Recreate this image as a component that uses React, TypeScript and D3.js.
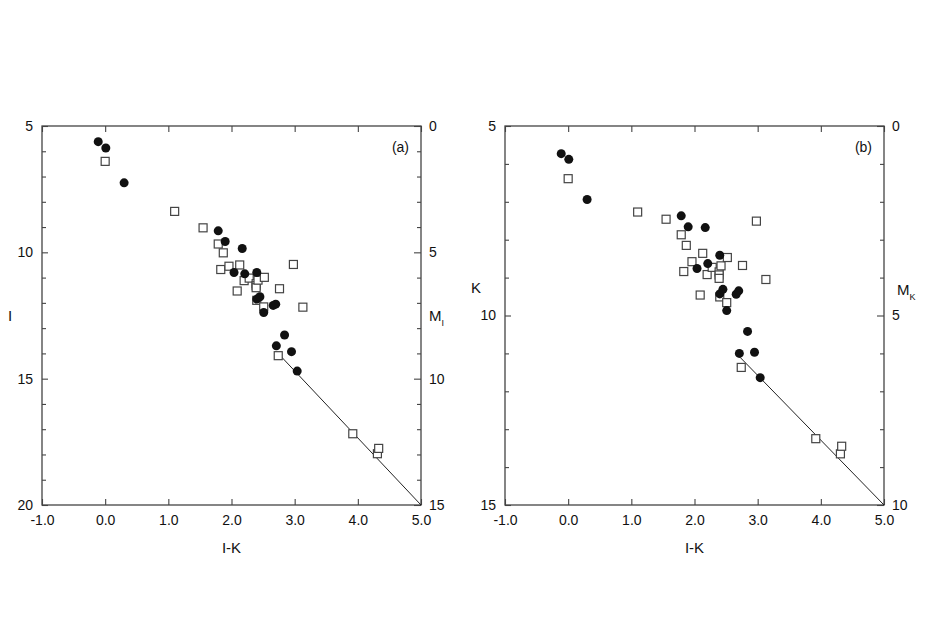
import React, { useEffect, useRef } from "react";
import * as d3 from "d3";

// colour I-K, apparent I, apparent K for the filled circles
const ikCircle = [-0.11, 0.01, 0.3, 1.79, 1.9, 2.17, 2.04, 2.21, 2.4, 2.4, 2.45, 2.66, 2.7, 2.51, 2.84, 2.71, 2.95, 3.04];
const iCircle = [5.62, 5.87, 7.25, 9.15, 9.57, 9.85, 10.8, 10.85, 10.8, 11.85, 11.76, 12.1, 12.05, 12.38, 13.27, 13.7, 13.93, 14.7];
const kCircle = [5.73, 5.88, 6.94, 7.37, 7.66, 7.68, 8.76, 8.63, 8.41, 9.43, 9.31, 9.44, 9.35, 9.87, 10.42, 11.0, 10.97, 11.64];

// same for the open squares
const ikSquare = [0.0, 1.1, 1.55, 1.79, 1.87, 1.83, 1.96, 2.13, 2.2, 2.28, 2.39, 2.39, 2.39, 2.42, 2.52, 2.09, 2.4, 2.51, 2.76, 2.98, 3.13, 2.74, 3.92, 4.31, 4.33];
const iSquare = [6.4, 8.38, 9.03, 9.67, 10.02, 10.68, 10.55, 10.5, 11.12, 11.02, 11.24, 11.32, 11.4, 11.1, 10.99, 11.53, 11.9, 12.16, 11.44, 10.48, 12.17, 14.09, 17.18, 17.97, 17.76];
const kSquare = [6.39, 7.27, 7.46, 7.87, 8.15, 8.84, 8.58, 8.36, 8.92, 8.73, 8.85, 8.93, 9.02, 8.69, 8.47, 9.46, 9.51, 9.66, 8.68, 7.51, 9.05, 11.37, 13.25, 13.65, 13.45];

// straight line drawn in both panels
const lineIK = [2.72, 5.0];
const lineI = [13.95, 20.0];
const lineK = [11.1, 15.0];

const xTicks = [-1, 0, 1, 2, 3, 4, 5];

const panels = [
  {
    left: 42, yDomain: [5, 20], yMajor: [5, 10, 15, 20], rDomain: [0, 15], rMajor: [0, 5, 10, 15],
    circ: iCircle, sq: iSquare, line: lineI, yLabel: "I", yLabelY: 316, rSub: "I", rLabelX: 429, rLabelY: 316, tag: "(a)",
  },
  {
    left: 505, yDomain: [5, 15], yMajor: [5, 10, 15], rDomain: [0, 10], rMajor: [0, 5, 10],
    circ: kCircle, sq: kSquare, line: lineK, yLabel: "K", yLabelY: 288, rSub: "K", rLabelX: 897, rLabelY: 290, tag: "(b)",
  },
];

const W = 379;
const TOP = 126;
const BOTTOM = 505;
const FONT = "'Liberation Sans', Arial, sans-serif";
const INK = "#444";

export default function App() {
  const ref = useRef<SVGSVGElement>(null);

  useEffect(() => {
    const svg = d3.select(ref.current);
    svg.selectAll("*").remove();

    panels.forEach((p) => {
      const g = svg.append("g");
      const x = d3.scaleLinear().domain([-1, 5]).range([p.left, p.left + W]);
      const y = d3.scaleLinear().domain(p.yDomain).range([TOP, BOTTOM]);
      const yR = d3.scaleLinear().domain(p.rDomain).range([TOP, BOTTOM]);
      const right = p.left + W;

      const style = (sel: any) => {
        sel.select(".domain").remove();
        sel.selectAll("line").attr("stroke", INK).attr("stroke-width", 1.1);
        sel.selectAll("text").attr("fill", "#111").attr("font-family", FONT).attr("font-size", 14);
      };

      // x axes, bottom with labels, top ticks only
      g.append("g")
        .attr("transform", `translate(0,${BOTTOM})`)
        .call(d3.axisBottom(x).tickValues(xTicks).tickSize(-6).tickPadding(10).tickFormat((d: any) => d.toFixed(1)))
        .call(style);
      g.append("g")
        .attr("transform", `translate(0,${TOP})`)
        .call(d3.axisTop(x).tickValues(xTicks).tickSize(-6).tickFormat(() => ""))
        .call(style);

      // left axis: minor every 1, labelled every 5
      const leftMinor = d3.range(p.yDomain[0], p.yDomain[1] + 1).filter((v) => !p.yMajor.includes(v));
      g.append("g")
        .attr("transform", `translate(${p.left},0)`)
        .call(d3.axisLeft(y).tickValues(leftMinor).tickSize(-4).tickFormat(() => ""))
        .call(style);
      g.append("g")
        .attr("transform", `translate(${p.left},0)`)
        .call(d3.axisLeft(y).tickValues(p.yMajor).tickSize(-6).tickPadding(9).tickFormat(d3.format("d")))
        .call(style);

      // right axis in absolute magnitude
      const rightMinor = d3.range(p.rDomain[0], p.rDomain[1] + 1).filter((v) => !p.rMajor.includes(v));
      g.append("g")
        .attr("transform", `translate(${right},0)`)
        .call(d3.axisRight(yR).tickValues(rightMinor).tickSize(-4).tickFormat(() => ""))
        .call(style);
      g.append("g")
        .attr("transform", `translate(${right},0)`)
        .call(d3.axisRight(yR).tickValues(p.rMajor).tickSize(-7).tickPadding(8).tickFormat(d3.format("d")))
        .call(style);

      // frame
      g.append("rect")
        .attr("x", p.left).attr("y", TOP)
        .attr("width", W).attr("height", BOTTOM - TOP)
        .attr("fill", "none").attr("stroke", INK).attr("stroke-width", 1.3);

      // fitted line
      const pts: [number, number][] = lineIK.map((v, i) => [x(v), y(p.line[i])]);
      g.append("path")
        .attr("d", d3.line()(pts))
        .attr("stroke", "#222").attr("stroke-width", 1).attr("fill", "none");

      // open squares
      g.append("g").selectAll("rect")
        .data(ikSquare)
        .join("rect")
        .attr("x", (d) => x(d) - 4)
        .attr("y", (d, i) => y(p.sq[i]) - 4)
        .attr("width", 8).attr("height", 8)
        .attr("fill", "white").attr("stroke", "#444").attr("stroke-width", 1.2);

      // filled circles
      g.append("g").selectAll("circle")
        .data(ikCircle)
        .join("circle")
        .attr("cx", (d) => x(d))
        .attr("cy", (d, i) => y(p.circ[i]))
        .attr("r", 4.5)
        .attr("fill", "#111");

      // labels
      g.append("text")
        .attr("x", (p.left + right) / 2).attr("y", 553)
        .attr("text-anchor", "middle").attr("font-family", FONT).attr("font-size", 15).attr("fill", "#111")
        .text("I-K");
      g.append("text")
        .attr("x", p.left - 34).attr("y", p.yLabelY + 5)
        .attr("font-family", FONT).attr("font-size", 15).attr("fill", "#111")
        .text(p.yLabel);
      const m = g.append("text")
        .attr("x", p.rLabelX).attr("y", p.rLabelY + 5)
        .attr("font-family", FONT).attr("font-size", 15).attr("fill", "#111");
      m.append("tspan").text("M");
      m.append("tspan").attr("font-size", 9).attr("dy", 5).text(p.rSub);
      g.append("text")
        .attr("x", right - 12).attr("y", 152)
        .attr("text-anchor", "end").attr("font-family", FONT).attr("font-size", 14).attr("fill", "#111")
        .text(p.tag);
    });
  }, []);

  return (
    <svg
      ref={ref}
      width={926}
      height={632}
      style={{ position: "absolute", left: 0, top: 0, background: "white" }}
    />
  );
}
